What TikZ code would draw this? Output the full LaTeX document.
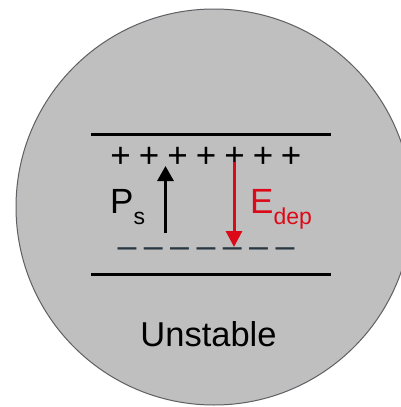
\documentclass[tikz,border=0pt]{standalone}
\usepackage{fontspec}
\setmainfont{Liberation Sans}
\usetikzlibrary{arrows.meta}
\definecolor{disk}{RGB}{191,191,191}
\definecolor{rim}{RGB}{95,95,100}
\definecolor{edred}{RGB}{220,10,25}
\definecolor{negc}{RGB}{40,55,65}
\tikzset{
  plate/.style={line width=3pt, black},
  pluschar/.style={inner sep=0pt, font=\fontsize{35}{35}\selectfont},
  minuschar/.style={inner sep=0pt, text=negc, font=\fontsize{34}{34}\selectfont},
  label/.style={inner sep=0pt, anchor=base west},
}
\begin{document}
\begin{tikzpicture}[x=1pt,y=-1pt]
\useasboundingbox (0,0) rectangle (401,407);
\begin{scope}
\clip (0,0) rectangle (401,407);
\fill[white] (0,0) rectangle (401,407);
\draw[rim, fill=disk, line width=1pt] (214,207) circle (198);
\end{scope}
% plates
\coordinate (tl) at (91,134);
\coordinate (tr) at (331,134);
\coordinate (bl) at (91,274);
\coordinate (br) at (331,274);
\draw[plate] (tl) -- (tr);
\draw[plate] (bl) -- (br);
% charges
\foreach \x [count=\i] in {120.5,149,177.5,206,234.5,263,291}
  \node[pluschar] (p\i) at (\x,157) {+};
\foreach \x [count=\i] in {127,153.3,179.7,206,232.3,258.7,285}
  \node[minuschar] (m\i) at (\x,252.5) {–};
% arrows
\coordinate (psa) at (165.5,233);
\coordinate (psb) at (165.5,166);
\draw[line width=3pt, -{Triangle[width=16pt,length=15pt]}] (psa) -- (psb);
\coordinate (eda) at (234,162);
\coordinate (edb) at (234,247);
\draw[edred, line width=3pt, -{Triangle[width=16pt,length=16pt]}] (eda) -- (edb);
% labels
\node[label, font=\fontsize{35}{35}\selectfont] (ps) at (110,213) {P\raisebox{-11pt}{\fontsize{23}{23}\selectfont s}};
\node[label, text=edred, font=\fontsize{35}{35}\selectfont] (ed) at (250,213) {E\raisebox{-11pt}{\fontsize{23}{23}\selectfont dep}};
\node[inner sep=0pt, anchor=base, font=\fontsize{34.5}{34.5}\selectfont] (un) at (208.5,346) {Unstable};
\end{tikzpicture}
\end{document}
